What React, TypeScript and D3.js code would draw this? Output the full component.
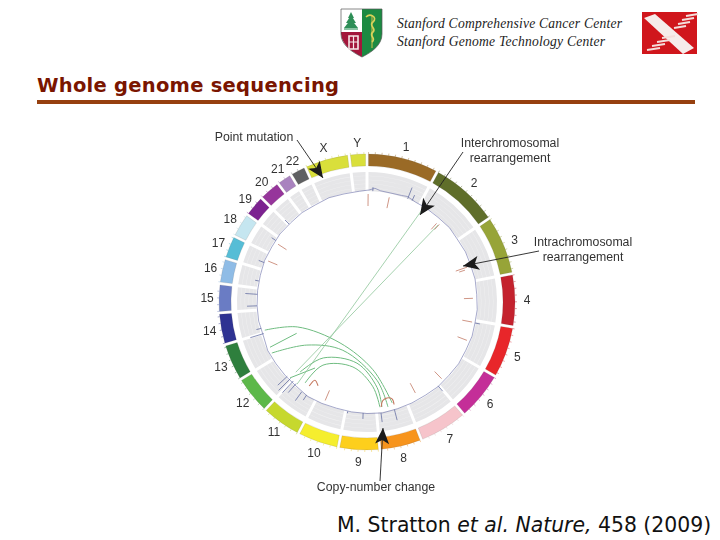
import { useEffect, useRef } from "react";
import * as d3 from "d3";

// circos-style whole genome plot
const chromNames = ["1","2","3","4","5","6","7","8","9","10","11","12","13","14","15","16","17","18","19","20","21","22","X","Y"];
// arc span of each chromosome, degrees incl. gap
const chromSpan = [28.3, 27.3, 23.3, 20.8, 20.4, 19.1, 19.2, 16.6, 16.1, 16.4, 15.9, 15.1, 14.7, 12.5, 11.4, 10.0, 9.2, 9.8, 8.4, 8.5, 6.0, 6.3, 17.6, 7.0];
const chromColor = ["#9a6a25","#5f6e2c","#97a437","#c4202e","#e8262a","#c42f98","#f6c4cb","#f7941e","#fdcf1d","#f5ee2d","#c6d82e","#5cb848","#2f7f3e","#2e3192","#6a7cc4","#8fbce6","#56bdd6","#c5e6f0","#7b2390","#96359b","#a983bf","#5f6062","#d9df3a","#d9df3a"];

// copy number baseline [deg, radius]
const copyLine: [number, number][] = [[1,112],[4,114],[7,112],[12,111.5],[18,112],[21,113],[26,111],[32,111],[40,110.5],[48,111],[55,110],[63,110.5],[70,110],[78,110.5],[86,110],[94,110.5],[101,110],[108,110.5],[116,110],[124,110.5],[132,110],[140,110.5],[148,110],[156,110.5],[164,111],[172,112],[180,111.5],[188,111],[196,110.5],[204,111],[212,111.5],[220,110],[228,110],[236,110],[244,110.5],[252,109],[260,110],[268,110],[276,110],[284,110],[292,110.5],[300,110],[308,110.5],[316,110],[324,110.5],[332,110],[340,111],[348,110.5],[356,111]];
// copy number spikes [deg, r0, r1]
const copySpikes: [number, number, number][] = [[3,111,115],[21.5,111,123],[24,111,117],[70,110,115],[101,110,115],[139.7,110,117],[165.7,111,122],[172.8,112,121],[182,111,117],[190,111,113],[216,111,122],[213,111,117],[221,108,120],[223,108,124],[225,108,125],[227,109,122],[253,108,122],[256,109,114],[268,110,120],[274,110,122],[281,110,114],[291,110,116],[304,110,115],[315,110,116]];

// red marks [deg, r0, r1]
const redMarks: [number, number, number][] = [[0.6,96,108],[12,96,107],[41.5,97,105],[43,99,106],[70.8,94,106],[72,97,103],[88,97,106],[100.8,97,107],[111,97,107],[135.8,97,107],[152,92,103],[203,96,107],[292.5,97,107],[303,96,106]];

// green links, way points [deg, radius]
const curvedLinks: [number, number][][] = [
  [[254.6,106],[250.3,74],[213.4,49],[175,68],[166,104]],
  [[241.8,108],[234.4,74],[206.6,54],[172.7,79],[168.7,107]],
  [[245,107],[246,77]],
  [[223.7,97],[218,71],[189.3,62],[173.3,86],[171.9,106]],
  [[217.4,102],[214.9,77],[192.2,66.5],[176,85],[173,106]],
  [[225.4,108],[218.2,84]],
];
const straightLinks: [number, number][][] = [
  [[30.8,106],[220.4,108]],
  [[42.7,105],[225.4,100]],
];
const redLoops: [number, number][][] = [
  [[172.3,106],[171,100],[168.2,98],[165.5,100],[165.2,106]],
  [[214.5,102],[213.7,94],[210.3,97]],
];

const gridRadii = [114, 118, 122, 126];
const callouts = [
  { from: [297, 140], tip: [323, 178], lines: ["Point mutation"], x: 254, y: 141 },
  { from: [463, 152], tip: [420, 215], lines: ["Interchromosomal", "rearrangement"], x: 510, y: 147 },
  { from: [539, 251], tip: [463, 266], lines: ["Intrachromosomal", "rearrangement"], x: 583, y: 246 },
  { from: [380, 481], tip: [383, 428], lines: ["Copy-number change"], x: 376, y: 491 },
];

const W = 720, H = 540, cx = 367, cy = 302;
const rad = (deg: number) => (deg * Math.PI) / 180;

export default function App() {
  const ref = useRef<SVGSVGElement>(null);

  useEffect(() => {
    const svg = d3.select(ref.current!);
    svg.selectAll("*").remove();
    const sans = "'Liberation Sans', Arial, sans-serif";

    svg.append("defs").append("filter").attr("id", "soft").append("feGaussianBlur").attr("stdDeviation", 0.35);

    /* ── HEADER ─────────────────────────────── */
    const head = svg.append("g").attr("font-family", "'Liberation Serif', serif").attr("font-style", "italic").attr("font-size", 13.6).attr("fill", "#222");
    head.append("text").attr("x", 397).attr("y", 28).attr("textLength", 225).text("Stanford Comprehensive Cancer Center");
    head.append("text").attr("x", 397).attr("y", 46).attr("textLength", 208).text("Stanford Genome Technology Center");

    // shield logo
    const logo = svg.append("g").attr("filter", "url(#soft)");
    logo.append("path").attr("d", "M341 9H362V34H341Z").attr("fill", "#fff");
    logo.append("path").attr("d", "M362 9H382V34C382 45 372 52 362 57Z").attr("fill", "#1b8a42");
    logo.append("path").attr("d", "M341 32H362V57C352 52 342 45 341 34Z").attr("fill", "#a3173a");
    logo.append("path").attr("d", "M341 9H382V34C382 45 372 52 362 57C352 52 341 45 341 34Z").attr("fill", "none").attr("stroke", "#555").attr("stroke-width", 0.7);
    ["M351 12L354 18H348Z", "M351 15L356 23H346Z", "M351 19L358 28H344Z"].forEach((d) => {
      logo.append("path").attr("d", d).attr("fill", "#2f8f58");
    });
    logo.append("path").attr("d", "M344 29H358").attr("stroke", "#3b9c66").attr("stroke-width", 1.2);
    logo.append("path").attr("d", "M349 36H358V49H349Z").attr("fill", "none").attr("stroke", "#f6e8e8").attr("stroke-width", 1.6);
    logo.append("path").attr("d", "M349 42H358M353.5 36V49").attr("stroke", "#f6e8e8").attr("stroke-width", 1.2);
    logo.append("path").attr("d", "M372 15V48").attr("stroke", "#b8b848").attr("stroke-width", 1.2);
    logo.append("path").attr("d", "M366 17C370 13 378 17 373 22C368 26 377 28 373 32C368 36 377 38 372 42").attr("fill", "none").attr("stroke", "#d8d25a").attr("stroke-width", 1.7);

    // X logo
    const xl = svg.append("g").attr("filter", "url(#soft)");
    xl.append("rect").attr("x", 642).attr("y", 12).attr("width", 55).attr("height", 42).attr("fill", "#d0141c");
    xl.append("path").attr("d", "M644 18L655 14L694 48L683 54Z").attr("fill", "#f6ecea");
    // striped arm
    [0, 1, 2, 3].forEach((i) => {
      xl.append("path").attr("d", `M${647 + i * 5} ${50 - i * 4}L${660 + i * 5} ${48 - i * 4}`).attr("stroke", "#f4dedb").attr("stroke-width", 2);
    });
    [0, 1, 2, 3].forEach((i) => {
      xl.append("path").attr("d", `M${674 + i * 4} ${28 - i * 4}L${686 + i * 4} ${26 - i * 4}`).attr("stroke", "#f4dedb").attr("stroke-width", 2);
    });

    svg.append("text").attr("x", 37).attr("y", 92).attr("font-family", "'DejaVu Sans', Verdana, sans-serif").attr("font-weight", "bold").attr("font-size", 19.5).attr("fill", "#7a1500").attr("textLength", 302).text("Whole genome sequencing");
    svg.append("rect").attr("x", 37).attr("y", 100).attr("width", 658).attr("height", 4).attr("fill", "#96400f");

    /* ── RINGS ──────────────────────────────── */
    const g = svg.append("g").attr("transform", `translate(${cx},${cy})`).attr("filter", "url(#soft)");
    const pie = d3.pie<number>().sort(null).value((d) => d);
    const slices = pie(chromSpan);

    const outer = d3.arc<d3.PieArcDatum<number>>().innerRadius(136).outerRadius(148).padAngle(rad(1.1)).padRadius(148);
    const inner = d3.arc<d3.PieArcDatum<number>>().innerRadius(111).outerRadius(130).padAngle(rad(1.3)).padRadius(130);
    const labelArc = d3.arc<d3.PieArcDatum<number>>().innerRadius(160).outerRadius(160);

    // grey track
    g.selectAll("path.track").data(slices).join("path").attr("class", "track").attr("d", (d) => inner(d)).attr("fill", "#e6e6e8");
    slices.forEach((s) => {
      gridRadii.forEach((r) => {
        const a = d3.arc<d3.PieArcDatum<number>>().innerRadius(r).outerRadius(r + 0.35).padAngle(rad(1.3)).padRadius(130);
        g.append("path").attr("d", a(s)!).attr("fill", "#f2f2f3");
      });
    });

    // chromosome ring
    g.selectAll("path.chrom").data(slices).join("path").attr("class", "chrom").attr("d", (d) => outer(d)).attr("fill", (_, i) => chromColor[i]).attr("stroke", "#55504a").attr("stroke-opacity", 0.35).attr("stroke-width", 0.4);

    // scale ticks outside the ring
    slices.forEach((s, i) => {
      const from = (s.startAngle * 180) / Math.PI + 0.6;
      const to = (s.endAngle * 180) / Math.PI - 0.6;
      const ticks = d3.range(from, to, 2.6);
      g.selectAll(null).data(ticks).join("line")
        .attr("x1", (a) => 148 * Math.sin(rad(a))).attr("y1", (a) => -148 * Math.cos(rad(a)))
        .attr("x2", (a) => 150 * Math.sin(rad(a))).attr("y2", (a) => -150 * Math.cos(rad(a)))
        .attr("stroke", d3.color(chromColor[i])!.darker(0.2).formatHex()).attr("stroke-opacity", 0.7).attr("stroke-width", 0.6);
    });

    // chromosome labels
    g.selectAll("text.lab").data(slices).join("text").attr("class", "lab")
      .attr("transform", (d) => `translate(${labelArc.centroid(d)})`)
      .attr("text-anchor", "middle").attr("dy", "0.35em")
      .attr("font-family", sans).attr("font-size", 12).attr("fill", "#333")
      .text((_, i) => chromNames[i]);

    /* ── COPY NUMBER TRACK ──────────────────── */
    const radial = d3.lineRadial<[number, number]>().angle((d) => rad(d[0])).radius((d) => d[1]);
    g.append("path").attr("d", radial.curve(d3.curveLinearClosed)(copyLine)!).attr("fill", "none").attr("stroke", "#6a6fa8").attr("stroke-width", 0.6);
    radial.curve(d3.curveLinear);
    copySpikes.forEach(([a, r0, r1]) => {
      g.append("path").attr("d", radial([[a, r0], [a, r1]])!).attr("stroke", "#55609a").attr("stroke-width", 0.7);
    });

    redMarks.forEach(([a, r0, r1]) => {
      g.append("path").attr("d", radial([[a, r0], [a, r1]])!).attr("stroke", "#c98a78").attr("stroke-width", 0.9);
    });

    /* ── LINKS ──────────────────────────────── */
    const curved = d3.lineRadial<[number, number]>().angle((d) => rad(d[0])).radius((d) => d[1]).curve(d3.curveCatmullRom);
    curvedLinks.forEach((l) => {
      g.append("path").attr("d", curved(l)!).attr("fill", "none").attr("stroke", "#6fbc80").attr("stroke-width", 1);
    });
    straightLinks.forEach((l) => {
      g.append("path").attr("d", radial(l)!).attr("fill", "none").attr("stroke", "#8fc79b").attr("stroke-width", 0.8);
    });
    redLoops.forEach((l) => {
      g.append("path").attr("d", curved(l)!).attr("fill", "none").attr("stroke", "#c4785f").attr("stroke-width", 1.1);
    });

    /* ── CALLOUTS ───────────────────────────── */
    const notes = svg.append("g").attr("filter", "url(#soft)");
    callouts.forEach((c) => {
      const [x0, y0] = c.from, [x1, y1] = c.tip;
      const ang = (Math.atan2(y1 - y0, x1 - x0) * 180) / Math.PI;
      notes.append("line").attr("x1", x0).attr("y1", y0).attr("x2", x1).attr("y2", y1).attr("stroke", "#222").attr("stroke-width", 0.9);
      notes.append("path").attr("transform", `translate(${x1},${y1}) rotate(${ang})`).attr("d", "M0 0L-16 -7L-12 0L-16 7Z").attr("fill", "#1a1a1a");
      c.lines.forEach((t, i) => {
        notes.append("text").attr("x", c.x).attr("y", c.y + i * 15).attr("text-anchor", "middle")
          .attr("font-family", sans).attr("font-size", 12.3).attr("fill", "#333").text(t);
      });
    });

    svg.append("text").attr("x", 337).attr("y", 532).attr("font-family", "'DejaVu Sans', Verdana, sans-serif").attr("font-size", 20.4).attr("fill", "#111")
      .html(`M. Stratton <tspan font-style="italic">et al. Nature,</tspan> 458 (2009)`);
  }, []);

  return <svg ref={ref} width={W} height={H} style={{ position: "absolute", left: 0, top: 0, background: "#fff" }} />;
}
